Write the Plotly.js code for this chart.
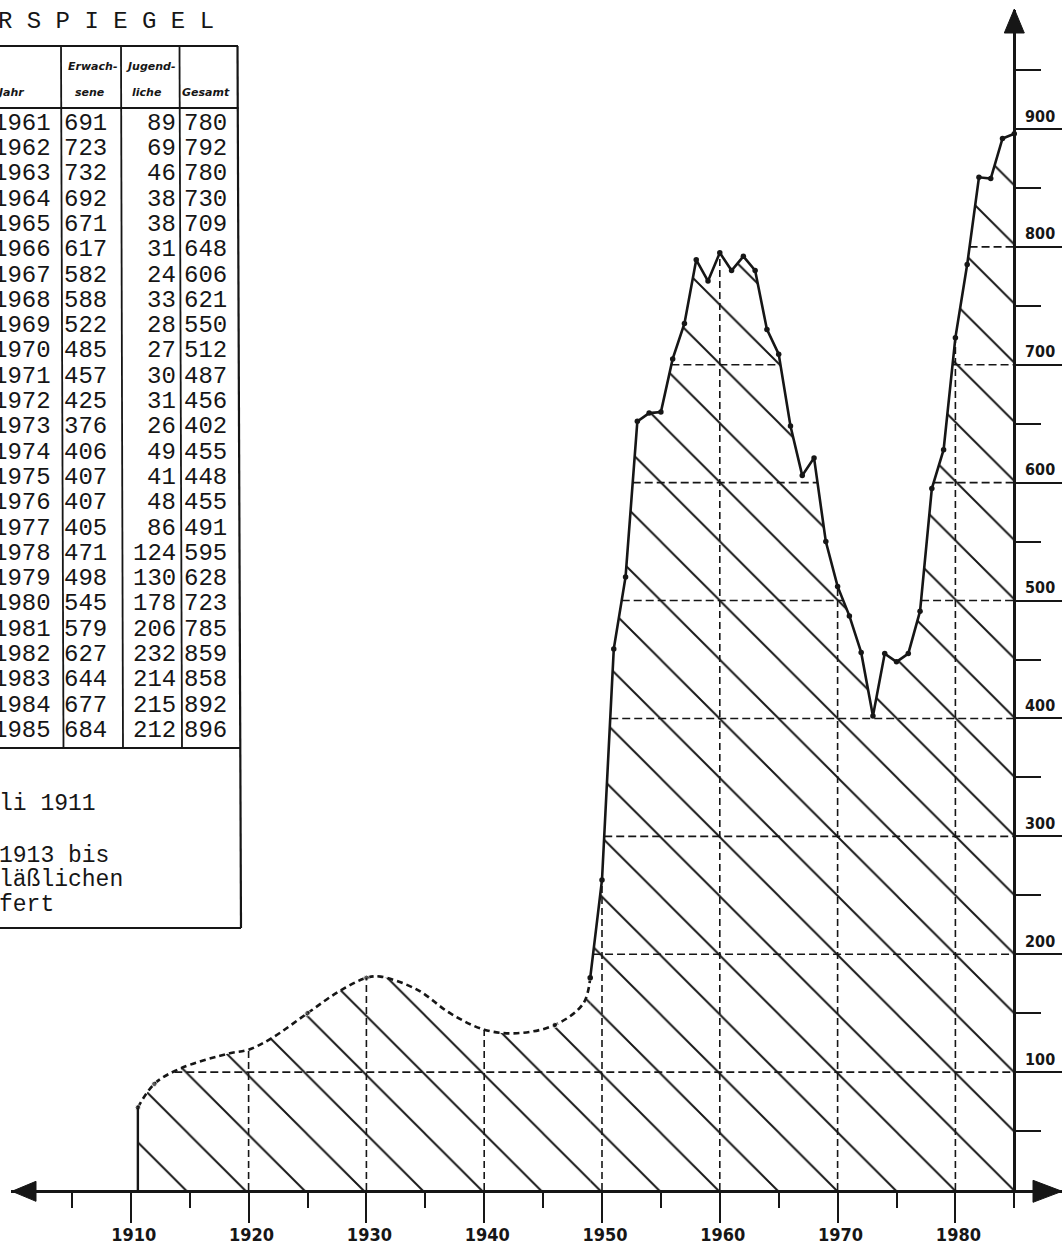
<!DOCTYPE html>
<html>
<head>
<meta charset="utf-8">
<script src="https://cdn.plot.ly/plotly-3.0.1.min.js"></script>
<style>
html,body{margin:0;padding:0;background:#fff;}
#chart{width:1062px;height:1250px;}
</style>
</head>
<body>
<div id="chart"></div>
<script>
// ---------------- data ----------------
const titleText = "R S P I E G E L";
const tableHeaders = [["Jahr"], ["Erwach-", "sene"], ["Jugend-", "liche"], ["Gesamt"]];
const tableYears  = [1961,1962,1963,1964,1965,1966,1967,1968,1969,1970,1971,1972,1973,1974,1975,1976,1977,1978,1979,1980,1981,1982,1983,1984,1985];
const tableAdults = [691,723,732,692,671,617,582,588,522,485,457,425,376,406,407,407,405,471,498,545,579,627,644,677,684];
const tableYouth  = [89,69,46,38,38,31,24,33,28,27,30,31,26,49,41,48,86,124,130,178,206,232,214,215,212];
const tableTotal  = [780,792,780,730,709,648,606,621,550,512,487,456,402,455,448,455,491,595,628,723,785,859,858,892,896];
const noteLines   = ["li 1911", "1913 bis", "läßlichen", "fert"];

// estimated course (dashed) 1911-1949
const estYears = [1910.6,1912,1914.2,1918.4,1920,1922,1925,1927.6,1930,1931.2,1934.3,1937.1,1940,1942.8,1946,1948.4,1949];
const estTotal = [70,90,103,116,119,129,150,168,180,181,170,150,136,133,140,158,180];
const estDot   = [1,1,0,0,0,0,1,0,1,0,0,0,0,0,1,0,1];

// recorded course (solid) 1949-1960, then table totals 1961-1985
const earlyYears = [1949,1950,1951,1952,1953,1954,1955,1956,1957,1958,1959,1960];
const earlyTotal = [180,263,459,520,652,659,660,705,735,789,771,795];
const recYears = earlyYears.concat(tableYears);
const recTotal = earlyTotal.concat(tableTotal);

const xTickYears  = [1910,1920,1930,1940,1950,1960,1970,1980];
const xMinorYears = [1905,1915,1925,1935,1945,1955,1965,1975,1985];
const yTickValues = [100,200,300,400,500,600,700,800,900];
const yMinorValues = [50,150,250,350,450,550,650,750,850,950];
const gridYears  = [1920,1930,1940,1950,1960,1970,1980];
const gridLevels = [100,200,300,400,500,600,700,800];
const axisYear = 1985;

// ---------------- geometry ----------------
const FW = 1062, FH = 1250;
const ML = 11, MT = 10, MR = 0, MB = 60;
const PW = FW - ML - MR, PH = FH - MT - MB;
const pxPerYear = 11.78, pxPerUnit = 1.1789, px1910 = 130.8;
const xRange = [1910 - (px1910 - ML) / pxPerYear, 1910 + (FW - MR - px1910) / pxPerYear];
const yRange = [0, PH / pxPerUnit];

const INK = '#161616';
const MONO = 'Liberation Mono, Courier New, DejaVu Sans Mono, monospace';
const HAND = 'DejaVu Sans Condensed, Liberation Sans Narrow, sans-serif';

// combined curve for the dashed grid clipping
const allX = estYears.concat(recYears.slice(1));
const allY = estTotal.concat(recTotal.slice(1));
function curveAt(x) {
  for (let i = 0; i < allX.length - 1; i++) {
    if (x >= allX[i] && x <= allX[i + 1]) {
      const t = (x - allX[i]) / (allX[i + 1] - allX[i]);
      return allY[i] + t * (allY[i + 1] - allY[i]);
    }
  }
  return 0;
}
function levelSegments(L) {
  const segs = [];
  let inside = allY[0] >= L, start = inside ? allX[0] : null;
  for (let i = 0; i < allX.length - 1; i++) {
    const y0 = allY[i], y1 = allY[i + 1];
    if ((y0 < L) !== (y1 < L)) {
      const xc = allX[i] + (L - y0) * (allX[i + 1] - allX[i]) / (y1 - y0);
      if (!inside) { start = xc; inside = true; }
      else { segs.push([start, xc]); inside = false; }
    }
  }
  if (inside) segs.push([start, allX[allX.length - 1]]);
  return segs;
}

const hx = [], hy = [];
gridLevels.forEach(L => {
  levelSegments(L).forEach(s => { hx.push(s[0], s[1], null); hy.push(L, L, null); });
});
const vx = [], vy = [];
gridYears.forEach(yr => { vx.push(yr, yr, null); vy.push(0, curveAt(yr), null); });

const hatch = {shape: '\\', size: 41.82, solidity: 0.046, fgcolor: INK, bgcolor: 'rgba(0,0,0,0)', fillmode: 'overlay', fgopacity: 1};

const traces = [
  {x: hx, y: hy, mode: 'lines', line: {color: INK, width: 1.6, dash: '8px,4px'}, hoverinfo: 'skip'},
  {x: vx, y: vy, mode: 'lines', line: {color: INK, width: 1.6, dash: '7px,4px'}, hoverinfo: 'skip'},
  {x: estYears, y: estTotal, mode: 'lines+markers', line: {color: INK, width: 2.6, dash: '6px,4px', shape: 'spline', smoothing: 1},
   marker: {color: INK, size: estDot.map(d => d ? 5.5 : 0)},
   fill: 'tozeroy', fillcolor: 'rgba(0,0,0,0)', fillpattern: hatch, hoverinfo: 'skip'},
  {x: recYears, y: recTotal, mode: 'lines+markers', line: {color: INK, width: 2.6},
   marker: {color: INK, size: 5.5},
   fill: 'tozeroy', fillcolor: 'rgba(0,0,0,0)', fillpattern: hatch, hoverinfo: 'skip'},
  {x: [estYears[0], estYears[0]], y: [0, estTotal[0]], mode: 'lines', line: {color: INK, width: 2.4}, hoverinfo: 'skip'}
];

// ---------------- table (annotations + shapes) ----------------
const px2x = px => (px - ML) / PW;
const py2y = py => 1 - (py - MT) / PH;
const annotations = [];
const shapes = [];
function txt(px, py, text, xanchor, font) {
  annotations.push({xref: 'paper', yref: 'paper', x: px2x(px), y: py2y(py), text: text, showarrow: false,
    xanchor: xanchor, yanchor: 'middle', borderpad: 0, borderwidth: 0, font: font});
}
function seg(ax, ay, bx, by, w) {
  shapes.push({type: 'line', xref: 'paper', yref: 'paper', x0: px2x(ax), y0: py2y(ay), x1: px2x(bx), y1: py2y(by),
    line: {color: INK, width: w}});
}
const monoFont = {family: MONO, size: 24, color: INK};
const noteFont = {family: MONO, size: 23, color: INK};
txt(-2, 22, titleText, 'left', monoFont);

const rowTop = 123.3, rowStep = 25.3;
tableYears.forEach((yr, i) => {
  const cy = rowTop + i * rowStep;
  txt(51, cy, String(yr), 'right', monoFont);
  txt(64, cy, String(tableAdults[i]), 'left', monoFont);
  txt(176, cy, String(tableYouth[i]), 'right', monoFont);
  txt(184, cy, String(tableTotal[i]), 'left', monoFont);
});
const headFont = {family: 'DejaVu Sans, sans-serif', size: 11, color: INK, weight: 'bold', style: 'italic'};
txt(-3, 92, tableHeaders[0][0], 'left', headFont);
txt(92, 67, tableHeaders[1][0], 'center', headFont);
txt(90, 92, tableHeaders[1][1], 'center', headFont);
txt(151, 67, tableHeaders[2][0], 'center', headFont);
txt(147, 92, tableHeaders[2][1], 'center', headFont);
txt(206, 92, tableHeaders[3][0], 'center', headFont);

const noteY = [804, 856, 880, 905];
noteLines.forEach((ln, i) => txt(-1, noteY[i], ln, 'left', noteFont));

// table frame
seg(-5, 46, 238, 46, 2.2);
seg(-5, 108, 238.5, 108, 2);
seg(-5, 748, 240.5, 748, 2);
seg(-5, 928, 241, 928, 2.2);
seg(61, 46, 63.5, 748, 1.8);
seg(121, 46, 123, 748, 1.8);
seg(179.5, 46, 182, 748, 1.8);
seg(237.5, 46, 241, 928, 2.2);

// axis arrowheads
shapes.push({type: 'path', xref: 'x', yref: 'paper', xsizemode: 'pixel', ysizemode: 'pixel', xanchor: axisYear, yanchor: 1,
  path: 'M0,1 L-10,-23 L10,-23 Z', fillcolor: INK, line: {color: INK, width: 1}});
shapes.push({type: 'path', xref: 'paper', yref: 'paper', xsizemode: 'pixel', ysizemode: 'pixel', xanchor: 0, yanchor: 0,
  path: 'M1,-1.3 L25,8.7 L25,-11.3 Z', fillcolor: INK, line: {color: INK, width: 1}});
shapes.push({type: 'path', xref: 'paper', yref: 'paper', xsizemode: 'pixel', ysizemode: 'pixel', xanchor: 1, yanchor: 0,
  path: 'M0,-1.3 L-29,9.7 L-29,-12.3 Z', fillcolor: INK, line: {color: INK, width: 1}});

const layout = {
  width: FW, height: FH,
  margin: {l: ML, r: MR, t: MT, b: MB, pad: 0},
  paper_bgcolor: '#ffffff', plot_bgcolor: 'rgba(0,0,0,0)',
  showlegend: false,
  xaxis: {
    range: xRange, fixedrange: true, showgrid: false, zeroline: false,
    showline: true, linecolor: INK, linewidth: 2.6,
    ticks: 'outside', ticklen: 30, tickwidth: 2, tickcolor: INK,
    tickmode: 'array', tickvals: xTickYears, ticktext: xTickYears.map(String),
    tickfont: {family: HAND, size: 18, color: INK, weight: 'bold'}, ticklabelstandoff: -3, ticklabelshift: 3,
    minor: {tickmode: 'array', tickvals: xMinorYears, ticks: 'outside', ticklen: 15, tickwidth: 2, tickcolor: INK, showgrid: false}
  },
  yaxis: {
    range: yRange, fixedrange: true, showgrid: false, zeroline: false,
    anchor: 'free', position: (axisYear - xRange[0]) / (xRange[1] - xRange[0]), side: 'right', automargin: false,
    showline: true, linecolor: INK, linewidth: 2.6,
    ticks: 'outside', ticklen: 46, tickwidth: 2, tickcolor: INK,
    tickmode: 'array', tickvals: yTickValues, ticktext: yTickValues.map(String),
    tickfont: {family: HAND, size: 16, color: INK, weight: 'bold'}, ticklabelshift: -13, ticklabelstandoff: -40,
    minor: {tickmode: 'array', tickvals: yMinorValues, ticks: 'outside', ticklen: 25, tickwidth: 2, tickcolor: INK, showgrid: false}
  },
  annotations: annotations,
  shapes: shapes
};

Plotly.newPlot('chart', traces, layout, {staticPlot: true, displayModeBar: false});
</script>
</body>
</html>
